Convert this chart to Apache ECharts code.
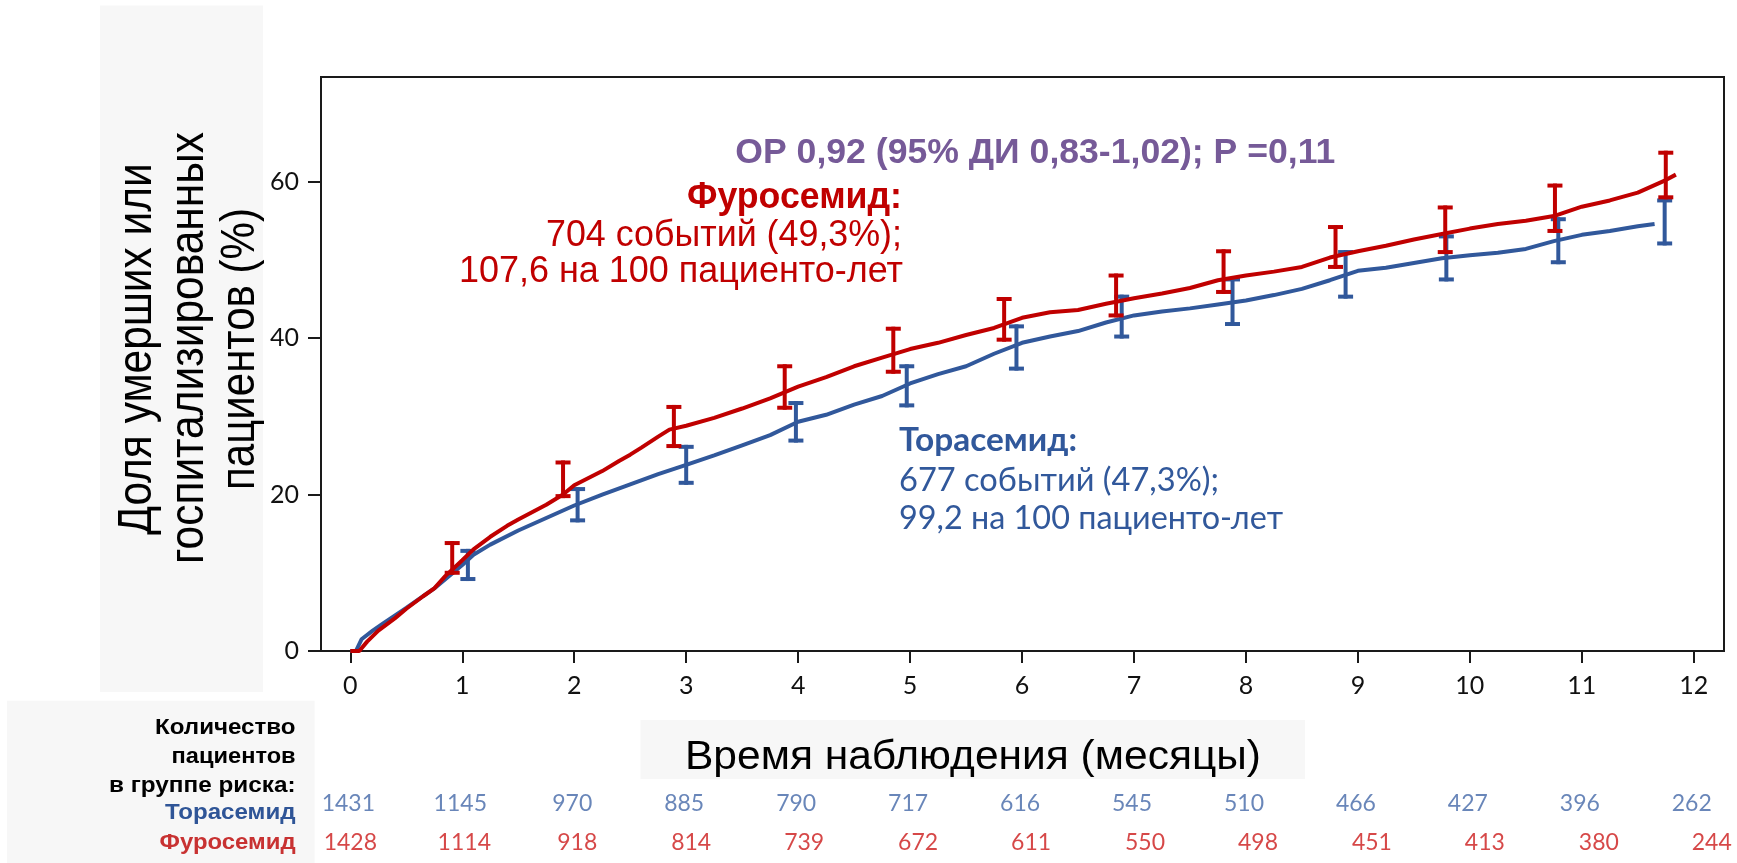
<!DOCTYPE html>
<html><head><meta charset="utf-8">
<script src="https://cdn.jsdelivr.net/npm/echarts@6/dist/echarts.min.js"></script>
<style>html,body{margin:0;padding:0;background:#fff}#c{width:1737px;height:863px}</style>
</head><body><div id="c"></div>
<script>
// ---------- DATA ----------
const tickMonths = [0,1,2,3,4,5,6,7,8,9,10,11,12];
const yTicks = [0,20,40,60];

const furoMonths = [0,0.08,0.15,0.25,0.4,0.5,0.65,0.75,0.85,1.0,1.1,1.25,1.4,1.5,1.75,1.9,2.0,2.25,2.4,2.5,2.6,2.75,2.85,3.0,3.25,3.5,3.75,4.0,4.25,4.5,4.75,5.0,5.25,5.5,5.75,6.0,6.25,6.5,6.75,7.0,7.25,7.5,7.75,8.0,8.25,8.5,8.75,9.0,9.25,9.5,9.75,10.0,10.25,10.5,10.75,11.0,11.25,11.5,11.75,11.84];
const furoValues = [0,0,1.2,2.6,4.2,5.4,7.0,8.0,9.6,11.6,13.0,14.6,16.0,16.8,18.7,20.0,21.2,23.0,24.3,25.1,26.0,27.4,28.3,28.8,29.8,31.0,32.3,33.8,35.0,36.4,37.5,38.6,39.4,40.4,41.3,42.6,43.3,43.6,44.4,45.1,45.7,46.4,47.4,48.0,48.5,49.1,50.3,51.1,51.8,52.6,53.3,54.0,54.6,55.0,55.6,56.8,57.6,58.6,60.2,60.9];

const toraMonths = [0,0.05,0.1,0.2,0.3,0.5,0.75,1.0,1.1,1.25,1.5,1.75,2.0,2.25,2.5,2.75,3.0,3.25,3.5,3.75,4.0,4.25,4.5,4.75,5.0,5.25,5.5,5.75,6.0,6.25,6.5,6.75,7.0,7.25,7.5,7.75,8.0,8.25,8.5,8.75,9.0,9.25,9.5,9.75,10.0,10.25,10.5,10.75,11.0,11.25,11.5,11.65];
const toraValues = [0,0,1.5,2.6,3.6,5.5,8.0,11.0,12.3,13.6,15.4,17.0,18.6,20.0,21.3,22.6,23.8,25.0,26.3,27.6,29.3,30.2,31.5,32.6,34.2,35.4,36.4,38.0,39.4,40.2,40.9,42.0,42.9,43.4,43.8,44.3,44.8,45.5,46.3,47.4,48.6,49.0,49.6,50.2,50.6,50.9,51.4,52.4,53.2,53.7,54.3,54.6];

const furoCiMonths = [0.91,1.9,2.89,3.88,4.85,5.84,6.84,7.8,8.8,9.78,10.76,11.75];
const furoCiLow    = [10.0,19.8,26.2,31.1,35.7,39.8,42.9,45.9,49.1,51.0,53.7,58.0];
const furoCiHigh   = [13.8,24.1,31.2,36.4,41.2,45.0,48.0,51.1,54.2,56.7,59.5,63.7];

const toraCiMonths = [1.05,2.03,3.0,3.98,4.97,5.95,6.89,7.88,8.89,9.79,10.79,11.74];
const toraCiLow    = [9.2,16.7,21.5,26.9,31.4,36.1,40.2,41.8,45.3,47.5,49.7,52.1];
const toraCiHigh   = [12.8,20.7,26.1,31.7,36.4,41.5,45.3,47.5,51.0,53.0,55.2,57.6];

const riskMonths = [0,1,2,3,4,5,6,7,8,9,10,11,12];
const toraAtRisk = [1431,1145,970,885,790,717,616,545,510,466,427,396,262];
const furoAtRisk = [1428,1114,918,814,739,672,611,550,498,451,413,380,244];
const groupNames = ['Торасемид','Фуросемид'];

// ---------- STYLE ----------
const RED = '#c00000', BLUE = '#31589b', PURPLE = '#765a98';
const ARIAL = "'Liberation Sans', Arial, sans-serif";
const CAL = "Lato, 'Open Sans', sans-serif";

const mctx = document.createElement('canvas').getContext('2d');
function fit(text, font, w){ mctx.font = font; return w / mctx.measureText(text).width; }
function txt(text, x, y, font, fill, align, width, rot){
  return {type:'text', x:x, y:y, rotation: rot||0, scaleX: width ? fit(text,font,width) : 1, scaleY:1, z:50,
    style:{text:text, font:font, fill:fill, textAlign:align, textVerticalAlign:'middle'}};
}

function zip(a,b){ return a.map((v,i)=>[v,b[i]]); }
function ciData(m,l,h){ return m.map((v,i)=>[v,l[i],h[i]]); }
function ciRender(color){
  return function(params, api){
    const x = api.value(0), lo = api.value(1), hi = api.value(2);
    const a = api.coord([x, lo]), b = api.coord([x, hi]);
    const hw = 7.5, st = {stroke: color, lineWidth: 4};
    return {type:'group', children:[
      {type:'line', shape:{x1:a[0], y1:a[1]+2, x2:b[0], y2:b[1]-2}, style:st},
      {type:'line', shape:{x1:a[0]-hw, y1:a[1], x2:a[0]+hw, y2:a[1]}, style:st},
      {type:'line', shape:{x1:b[0]-hw, y1:b[1], x2:b[0]+hw, y2:b[1]}, style:st}
    ]};
  };
}

const chart = echarts.init(document.getElementById('c'), null, {renderer:'canvas'});

const G = {left:321, top:77, width:1403, height:574};
const XMIN = -0.262, XMAX = 12.27, YMAX = 73.38;

const graphics = [
  {type:'rect', shape:{x:100, y:5.5, width:163, height:686.5}, style:{fill:'#f7f7f7'}, z:-10},
  {type:'rect', shape:{x:7, y:700.7, width:307.6, height:162.3}, style:{fill:'#f7f7f7'}, z:-10},
  {type:'rect', shape:{x:640.5, y:720, width:664.5, height:59}, style:{fill:'#f7f7f7'}, z:-10},
  txt('Доля умерших или', 137.8, 349, "48px " + ARIAL, '#000', 'center', 371.6, Math.PI/2),
  txt('госпитализированных', 190, 348, "48px " + ARIAL, '#000', 'center', 432, Math.PI/2),
  txt('пациентов (%)', 241, 349, "48px " + ARIAL, '#000', 'center', 282, Math.PI/2),
  txt('Время наблюдения (месяцы)', 973, 757.4, "41px " + ARIAL, '#000', 'center', 576),
  txt('ОР 0,92 (95% ДИ 0,83-1,02); P =0,11', 735.3, 153.5, "bold 35px " + ARIAL, PURPLE, 'left', 600),
  txt('Фуросемид:', 902, 198.5, "bold 36px " + ARIAL, RED, 'right', 215),
  txt('704 событий (49,3%);', 902, 236.4, "36px " + ARIAL, RED, 'right', 356),
  txt('107,6 на 100 пациенто-лет', 903, 272, "36px " + ARIAL, RED, 'right', 444),
  txt('Торасемид:', 899, 440, "bold 33px " + CAL, BLUE, 'left', 178),
  txt('677 событий (47,3%);', 899, 480.5, "33px " + CAL, BLUE, 'left', 320),
  txt('99,2 на 100 пациенто-лет', 899, 518, "33px " + CAL, BLUE, 'left', 384),
  txt('Количество', 295.6, 728, "bold 22px " + ARIAL, '#000', 'right', 140.6),
  txt('пациентов', 295.6, 757, "bold 22px " + ARIAL, '#000', 'right', 124),
  txt('в группе риска:', 295.6, 786, "bold 22px " + ARIAL, '#000', 'right', 186.6),
  txt('Торасемид', 295.6, 813.3, "bold 22px " + ARIAL, '#2f5597', 'right', 130.6),
  txt('Фуросемид', 295.6, 843.3, "bold 22px " + ARIAL, '#c83232', 'right', 136)
];

const option = {
  animation:false,
  backgroundColor:'#ffffff',
  grid:[
    {left:G.left, top:G.top, width:G.width, height:G.height, show:true, borderColor:'#1a1a1a', borderWidth:2, backgroundColor:'transparent'},
    {left:G.left, top:784.5, width:G.width, height:78}
  ],
  xAxis:[
    {type:'value', gridIndex:0, min:XMIN, max:XMAX,
     axisLine:{show:true, onZero:false, lineStyle:{color:'#1a1a1a', width:2}},
     axisTick:{show:true, customValues:tickMonths, length:12, lineStyle:{color:'#1a1a1a', width:2}},
     axisLabel:{show:true, customValues:tickMonths, margin:22, fontFamily:CAL, fontSize:25, color:'#111'},
     splitLine:{show:false}},
    {type:'value', gridIndex:1, min:XMIN, max:XMAX, show:false}
  ],
  yAxis:[
    {type:'value', gridIndex:0, min:0, max:YMAX,
     axisLine:{show:true, onZero:false, lineStyle:{color:'#1a1a1a', width:2}},
     axisTick:{show:true, customValues:yTicks, length:13, lineStyle:{color:'#1a1a1a', width:2}},
     axisLabel:{show:true, customValues:yTicks, margin:22, fontFamily:CAL, fontSize:25, color:'#111'},
     splitLine:{show:false}},
    {type:'category', gridIndex:1, data:groupNames, inverse:true, show:false}
  ],
  graphic: graphics,
  series:[
    {type:'line', name:'Торасемид', xAxisIndex:0, yAxisIndex:0, data:zip(toraMonths,toraValues), showSymbol:false,
     lineStyle:{color:BLUE, width:4}, z:3},
    {type:'custom', xAxisIndex:0, yAxisIndex:0, data:ciData(toraCiMonths,toraCiLow,toraCiHigh), renderItem:ciRender(BLUE), z:4},
    {type:'line', name:'Фуросемид', xAxisIndex:0, yAxisIndex:0, data:zip(furoMonths,furoValues), showSymbol:false,
     lineStyle:{color:RED, width:4}, z:5},
    {type:'custom', xAxisIndex:0, yAxisIndex:0, data:ciData(furoCiMonths,furoCiLow,furoCiHigh), renderItem:ciRender(RED), z:6},
    {type:'scatter', xAxisIndex:1, yAxisIndex:1, symbolSize:1, itemStyle:{color:'rgba(0,0,0,0)'},
     data: riskMonths.map((m,i)=>({value:[m,0,toraAtRisk[i]], label:{offset:[-2,0]}})),
     label:{show:true, position:'inside', formatter:p=>String(p.value[2]), fontFamily:CAL, fontSize:23, color:'#4468a8'}},
    {type:'scatter', xAxisIndex:1, yAxisIndex:1, symbolSize:1, itemStyle:{color:'rgba(0,0,0,0)'},
     data: riskMonths.map((m,i)=>({value:[m,1,furoAtRisk[i]], label:{offset:[Math.round(m*1.5),0]}})),
     label:{show:true, position:'inside', formatter:p=>String(p.value[2]), fontFamily:CAL, fontSize:23, color:'#cc1a1a'}}
  ]
};
chart.setOption(option);
</script>
</body></html>
